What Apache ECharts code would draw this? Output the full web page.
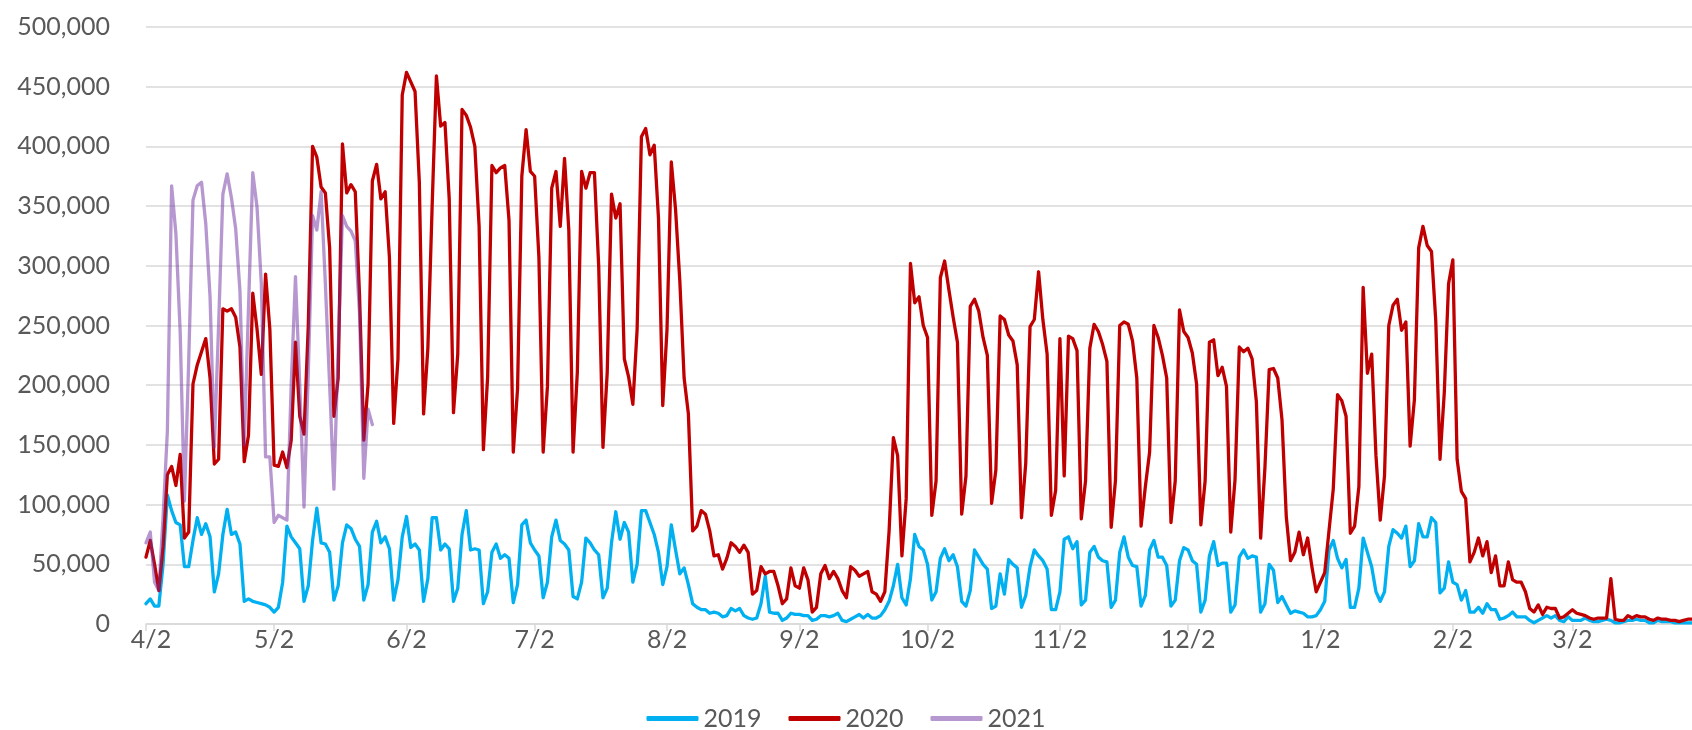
<!DOCTYPE html>
<html>
<head>
<meta charset="utf-8">
<script src="https://cdn.jsdelivr.net/npm/echarts@6/dist/echarts.min.js"></script>
<style>
  html, body { margin: 0; padding: 0; background: #fff; }
  #chart { width: 1692px; height: 730px; }
</style>
</head>
<body>
<div id="chart"></div>
<script>
"use strict";

// day labels, 4/2 .. 3/30 (one per day)
var startDay = Date.UTC(2020, 3, 2);
var dayCount = 363;
var days = [];
for (var i = 0; i < dayCount; i++) {
  var d = new Date(startDay + i * 86400000);
  days.push((d.getUTCMonth() + 1) + "/" + d.getUTCDate());
}

// values in thousands
var y2019 = [
  17,21,15,15,50,108,95,85,83,48,
  48,70,89,75,84,73,27,42,75,96,
  75,77,67,19,21,19,18,17,16,14,
  10,14,35,82,73,68,63,19,32,70,
  97,68,67,60,20,32,68,83,80,71,
  65,20,33,77,86,68,73,63,20,37,
  73,90,64,67,62,19,38,89,89,62,
  67,63,19,30,75,95,62,63,62,17,
  27,60,67,55,58,55,18,33,83,87,
  68,62,57,22,35,73,87,70,67,62,
  23,21,35,72,68,62,58,22,30,68,
  94,71,85,77,35,50,95,95,85,75,
  60,33,48,83,62,42,47,33,17,14,
  12,12,9,10,9,6,7,13,11,13,
  7,5,4,5,17,40,10,9,9,3,
  5,9,8,8,7,7,3,4,7,7,
  6,7,9,3,2,4,6,8,5,8,
  5,5,7,12,19,32,50,22,16,38,
  75,65,62,50,20,27,55,63,53,58,
  48,19,15,28,62,56,50,46,13,15,
  42,25,54,50,47,14,24,48,62,57,
  53,46,12,12,27,71,73,63,69,16,
  20,60,65,56,53,52,14,20,60,73,
  56,49,48,15,24,62,70,56,56,49,
  15,20,53,64,62,53,50,10,20,57,
  69,49,51,51,10,16,56,62,55,57,
  56,10,17,50,45,18,23,16,9,11,
  10,9,6,6,7,12,19,62,70,55,
  47,54,14,14,30,72,60,48,27,19,
  27,65,79,76,72,82,48,53,84,73,
  73,89,85,26,30,52,35,33,20,28,
  10,10,14,9,17,12,12,4,5,7,
  10,6,6,6,3,1,3,5,7,5,
  7,3,2,6,3,3,3,5,3,2,
  2,3,4,3,1,1,2,3,3,4,
  3,3,1,1,3,2,2,2,1,1,
  1,1,1
];

var y2020 = [
  56,70,50,28,65,125,132,116,142,72,
  77,201,217,228,239,206,134,138,264,262,
  264,257,232,136,158,277,247,209,293,247,
  133,132,144,131,154,236,174,159,250,400,
  391,366,361,315,174,206,402,361,368,362,
  275,154,201,371,385,356,362,307,168,222,
  443,462,454,446,370,176,231,350,459,417,
  420,356,177,226,431,426,416,400,333,146,
  207,384,378,382,384,338,144,197,375,414,
  379,375,307,144,199,365,379,333,390,330,
  144,211,379,365,378,378,300,148,211,360,
  340,352,222,207,184,247,408,415,393,401,
  340,183,247,387,347,287,206,176,78,82,
  95,92,78,57,58,46,55,68,65,60,
  66,60,25,28,48,42,44,44,32,17,
  21,47,32,30,47,37,10,14,42,49,
  38,44,38,28,22,48,45,40,42,44,
  27,25,19,27,78,156,141,57,105,302,
  269,274,250,240,91,120,290,304,280,257,
  236,92,124,266,272,262,240,225,101,129,
  258,255,242,237,217,89,135,249,255,295,
  255,226,91,112,239,124,241,239,229,88,
  120,231,251,245,234,220,81,120,250,253,
  251,237,206,82,115,144,250,240,225,206,
  85,120,263,245,240,227,201,83,120,236,
  238,208,215,199,77,121,232,228,231,222,
  186,72,131,213,214,206,171,90,53,60,
  77,58,72,48,27,35,43,78,113,192,
  187,174,76,82,115,282,210,226,141,87,
  124,250,267,272,246,253,149,188,315,333,
  317,312,254,138,194,285,305,138,111,105,
  52,60,72,57,69,43,57,32,32,52,
  37,35,35,27,13,10,16,8,14,13,
  13,5,6,9,12,9,8,7,5,4,
  5,5,5,38,4,3,3,7,5,7,
  6,6,4,3,5,4,4,3,3,2,
  3,4,4
];

var y2021 = [
  68,77,35,28,90,161,367,327,245,103,
  220,355,367,370,335,274,148,250,360,377,
  357,331,279,150,265,378,349,285,140,140,
  85,91,89,87,200,291,200,98,210,342,
  330,362,285,200,113,230,342,333,329,321,
  260,122,180,167
];

var yTicks = [0, 50, 100, 150, 200, 250, 300, 350, 400, 450, 500];

var textColor = "#595959";
var gridColor = "#d9d9d9";
var fontName = "Lato";

function isMonthTick(index, value) {
  return String(value).split("/")[1] === "2";
}

function makeLine(name, data, color, opacity) {
  return {
    name: name,
    type: "line",
    data: data,
    showSymbol: false,
    symbol: "none",
    smooth: false,
    lineStyle: { color: color, width: 3.3, opacity: opacity, join: "round", cap: "round" },
    itemStyle: { color: color, opacity: opacity },
    emphasis: { disabled: true }
  };
}

var chart = echarts.init(document.getElementById("chart"));

chart.setOption({
  animation: false,
  textStyle: { fontFamily: fontName },
  grid: { left: 146, right: 0, top: 27, bottom: 106 },
  legend: {
    top: 701,
    left: "center",
    icon: "roundRect",
    itemWidth: 52,
    itemHeight: 5,
    itemGap: 27,
    textStyle: { fontSize: 25, color: textColor, fontFamily: fontName },
    data: [
      { name: "2019", itemStyle: { color: "#00b0f0", opacity: 1 } },
      { name: "2020", itemStyle: { color: "#c00000", opacity: 1 } },
      { name: "2021", itemStyle: { color: "#b797cf", opacity: 1 } }
    ]
  },
  xAxis: {
    type: "category",
    boundaryGap: false,
    data: days,
    axisLine: { lineStyle: { color: gridColor, width: 1.5 } },
    axisTick: { interval: isMonthTick, length: 7, lineStyle: { color: gridColor, width: 1.5 } },
    axisLabel: {
      interval: isMonthTick,
      fontSize: 25,
      color: textColor,
      margin: 3,
      fontFamily: fontName,
      // first label sits a little inside the plot, like the original
      formatter: function (value, index) {
        return index === 0 ? "{first|" + value + "}" : value;
      },
      rich: {
        first: { fontSize: 25, color: textColor, fontFamily: fontName, padding: [0, 0, 0, 10] }
      }
    },
    splitLine: { show: false }
  },
  yAxis: {
    type: "value",
    min: yTicks[0],
    max: yTicks[yTicks.length - 1],
    interval: yTicks[1] - yTicks[0],
    axisLine: { show: false },
    axisTick: { show: false },
    axisLabel: {
      fontSize: 25,
      color: textColor,
      margin: 36,
      fontFamily: fontName,
      formatter: function (v) {
        return (v * 1000).toLocaleString("en-US");
      }
    },
    splitLine: { lineStyle: { color: gridColor, width: 1.5 } }
  },
  series: [
    makeLine("2019", y2019, "#00b0f0", 1),
    makeLine("2020", y2020, "#c00000", 1),
    makeLine("2021", y2021, "#7030a0", 0.5)
  ]
});
</script>
</body>
</html>
